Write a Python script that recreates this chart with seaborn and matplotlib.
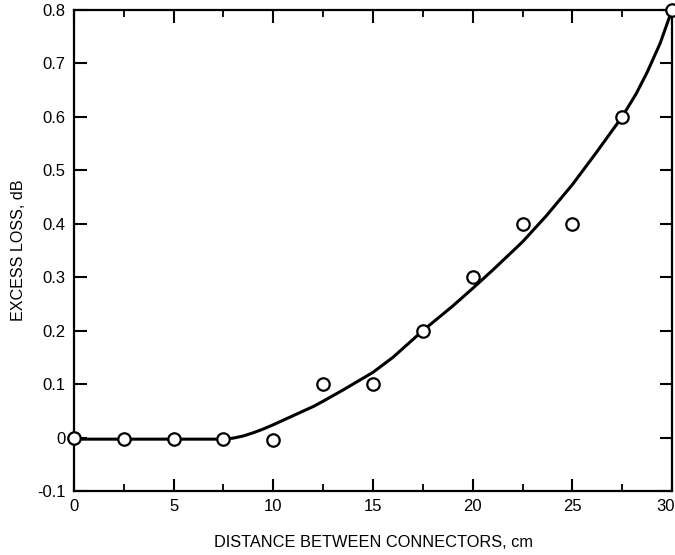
import matplotlib
matplotlib.use("Agg")
import matplotlib.pyplot as plt
import matplotlib.transforms as mtransforms
import pandas as pd
import seaborn as sns
from matplotlib.ticker import MultipleLocator

# measured points
DISTANCE_CM = [0, 2.5, 5, 7.5, 10, 12.5, 15, 17.5, 20, 22.5, 25, 27.5, 30]
EXCESS_LOSS_DB = [0.0, -0.003, -0.003, -0.003, -0.005, 0.1, 0.1, 0.2, 0.3, 0.4, 0.4, 0.6, 0.8]

# fitted curve
CURVE_X = [0, 2.5, 5, 7.5, 8, 8.5, 9, 9.5, 10, 11, 12, 12.5, 13.5, 15, 16, 17.5,
           19, 20, 21, 22.5, 23.7, 25, 26.2, 27.5, 28.2, 28.75, 29.4, 30]
CURVE_Y = [-0.003, -0.003, -0.003, -0.003, -0.001, 0.003, 0.009, 0.016, 0.024,
           0.041, 0.058, 0.068, 0.089, 0.122, 0.15, 0.2, 0.246, 0.279, 0.313,
           0.366, 0.415, 0.473, 0.533, 0.6, 0.643, 0.683, 0.737, 0.8]

Y_TICKS = [-0.1, 0, 0.1, 0.2, 0.3, 0.4, 0.5, 0.6, 0.7, 0.8]
Y_TICK_LABELS = ["-0.1", "0", "0.1", "0.2", "0.3", "0.4", "0.5", "0.6", "0.7", "0.8"]
X_TICKS = [0, 5, 10, 15, 20, 25, 30]

sns.set_style("ticks")
plt.rcParams["font.family"] = ["Liberation Sans", "DejaVu Sans"]
plt.rcParams["text.color"] = "black"
plt.rcParams["axes.labelcolor"] = "black"
plt.rcParams["xtick.color"] = "black"
plt.rcParams["ytick.color"] = "black"
plt.rcParams["axes.edgecolor"] = "black"

points_df = pd.DataFrame({"distance": DISTANCE_CM, "loss": EXCESS_LOSS_DB})
curve_df = pd.DataFrame({"distance": CURVE_X, "loss": CURVE_Y})

fig = plt.figure(figsize=(6.75, 5.55), dpi=100)
ax = fig.add_axes([0.1096, 0.1153, 0.886, 0.867])

sns.lineplot(data=curve_df, x="distance", y="loss", ax=ax, color="black", linewidth=2.2, sort=False)
sns.scatterplot(data=points_df, x="distance", y="loss", ax=ax, marker="o", s=80,
                facecolor="white", edgecolor="black", linewidth=1.6, zorder=5, clip_on=False)

ax.set_xlim(0, 30)
ax.set_ylim(-0.1, 0.8)
ax.set_xticks(X_TICKS)
ax.set_xticklabels([str(t) for t in X_TICKS])
ax.xaxis.set_minor_locator(MultipleLocator(2.5))
ax.set_yticks(Y_TICKS)
ax.set_yticklabels(Y_TICK_LABELS)

ax.tick_params(axis="both", which="major", direction="in", length=9, width=1.5,
               top=True, right=True, labelsize=12, pad=6, colors="black")
ax.tick_params(axis="x", which="minor", direction="in", length=5, width=1.3, top=True, colors="black")
for spine in ax.spines.values():
    spine.set_visible(True)
    spine.set_linewidth(1.6)
    spine.set_color("black")

# last x label sits at the figure edge, nudge it inwards a little
last = ax.get_xticklabels()[-1]
last.set_transform(last.get_transform() + mtransforms.ScaledTranslation(-6 / 100, 0, fig.dpi_scale_trans))

ax.set_xlabel("DISTANCE BETWEEN CONNECTORS, cm", fontsize=11.8, labelpad=15, color="black")
ax.set_ylabel("EXCESS LOSS, dB", fontsize=11.6, labelpad=8, color="black")

fig.savefig("out.png", dpi=100)
